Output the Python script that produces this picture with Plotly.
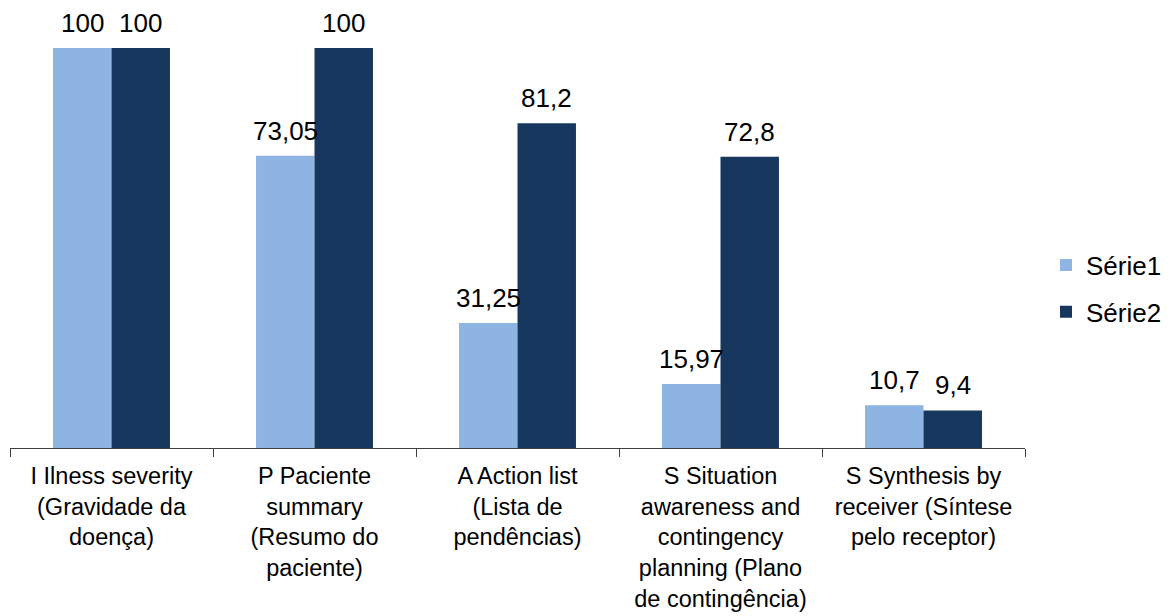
import plotly.graph_objects as go

categories = [
    "I Ilness severity<br>(Gravidade da<br>doença)",
    "P Paciente<br>summary<br>(Resumo do<br>paciente)",
    "A Action list<br>(Lista de<br>pendências)",
    "S Situation<br>awareness and<br>contingency<br>planning (Plano<br>de contingência)",
    "S Synthesis by<br>receiver (Síntese<br>pelo receptor)",
]
serie1 = [100, 73.05, 31.25, 15.97, 10.7]
serie2 = [100, 100, 81.2, 72.8, 9.4]
series_names = ["Série1", "Série2"]
colors = ["#8EB4E3", "#17375E"]

W, H = 1173, 616
ML, MR, MT, MB = 10, 148, 48, 168
BARGAP = 0.424
FONT = "Arial, Liberation Sans, sans-serif"

fig = go.Figure()
for i, (name, vals) in enumerate(zip(series_names, [serie1, serie2])):
    fig.add_trace(go.Bar(
        x=categories, y=vals, name=name,
        marker=dict(color=colors[i], line=dict(width=0)),
        legendgroup=name,
    ))

plot_w = W - ML - MR
bar_w = plot_w / len(categories) * (1 - BARGAP) / 2
for i, vals in enumerate([serie1, serie2]):
    for c, v in zip(categories, vals):
        fig.add_annotation(
            x=c, y=v, text=f"{v:g}".replace(".", ","),
            showarrow=False, xanchor="center", yanchor="bottom",
            xshift=(i - 0.5) * bar_w, yshift=8,
            font=dict(family=FONT, size=26, color="#000000"),
        )

fig.update_layout(
    width=W, height=H,
    margin=dict(l=ML, r=MR, t=MT, b=MB, autoexpand=False),
    paper_bgcolor="white", plot_bgcolor="white",
    barmode="group", bargap=BARGAP, bargroupgap=0,
    font=dict(family=FONT, size=24, color="#000000"),
    showlegend=True,
    legend=dict(
        xref="container", yref="container",
        x=1046 / W, y=(H - 288.5) / H, xanchor="left", yanchor="middle",
        font=dict(family=FONT, size=26, color="#000000"),
        traceorder="grouped", tracegroupgap=10,
        bgcolor="rgba(0,0,0,0)", borderwidth=0,
    ),
    xaxis=dict(
        showline=True, linecolor="#404040", linewidth=1.3,
        ticks="outside", tickson="boundaries", ticklen=8, tickcolor="#404040",
        tickwidth=1.3,
        showgrid=False, zeroline=False, ticklabelstandoff=7, automargin=False,
        tickfont=dict(family=FONT, size=23.5, color="#000000"),
    ),
    yaxis=dict(range=[0, 100], visible=False, showgrid=False, zeroline=False,
               automargin=False),
)

fig.write_html("out.html")
